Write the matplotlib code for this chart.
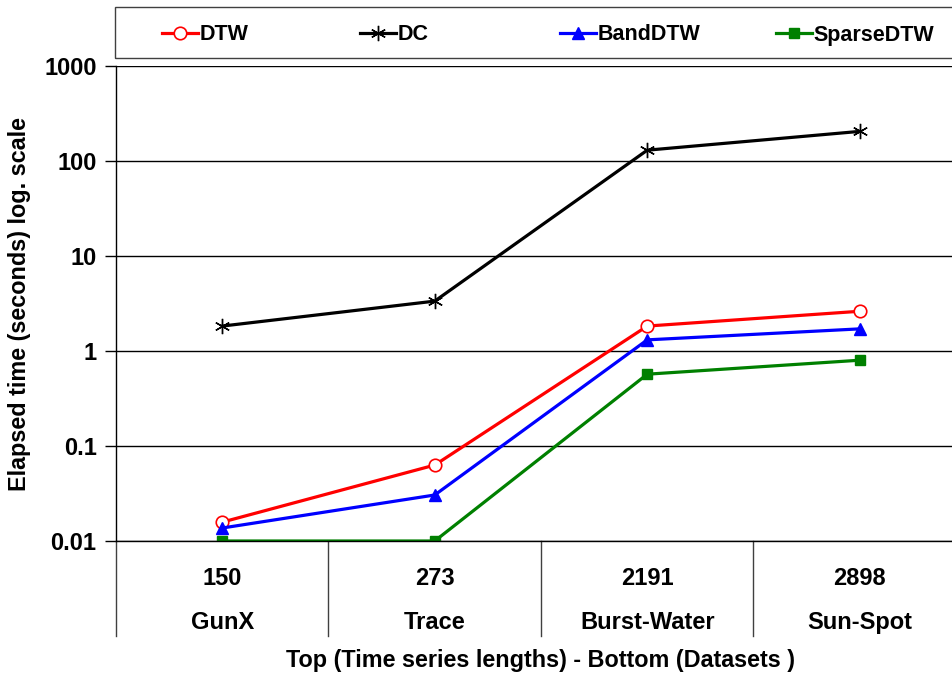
import matplotlib
matplotlib.use("Agg")
import matplotlib.pyplot as plt
import matplotlib.transforms as mtransforms
from matplotlib.patches import Rectangle

# 데이터
lengths = ["150", "273", "2191", "2898"]
datasets = ["GunX", "Trace", "Burst-Water", "Sun-Spot"]
dtw = [0.0158, 0.063, 1.83, 2.62]
dc = [1.83, 3.35, 130, 205]
band_dtw = [0.0137, 0.0305, 1.31, 1.71]
sparse_dtw = [0.01, 0.01, 0.57, 0.80]

plt.rcParams['font.family'] = ['Liberation Sans', 'DejaVu Sans']
plt.rcParams['font.weight'] = 'bold'

fig = plt.figure(figsize=(9.53, 6.77), dpi=100)
W, H = 953, 677
left, right, top, bottom = 116, 966, 66, 541
ax = fig.add_axes([left / W, 1 - bottom / H, (right - left) / W, (bottom - top) / H])

x = list(range(len(lengths)))
l1, = ax.plot(x, dtw, color="red", lw=2.3, marker="o", ms=9, mfc="white", mec="red", mew=1.2, label="DTW")
l2, = ax.plot(x, dc, color="black", lw=2.3, marker=(6, 2, 0), ms=11, mew=1.0, label="DC")
l3, = ax.plot(x, band_dtw, color="blue", lw=2.3, marker="^", ms=9, label="BandDTW")
l4, = ax.plot(x, sparse_dtw, color="green", lw=2.3, marker="s", ms=7, label="SparseDTW")

ax.set_yscale("log")
ax.set_ylim(0.01, 1000)
ax.set_xlim(-0.5, 3.5)
ax.set_yticks([0.01, 0.1, 1, 10, 100, 1000])
ax.set_yticklabels(["0.01", "0.1", "1", "10", "100", "1000"])
ax.minorticks_off()
ax.yaxis.grid(True, color="black", lw=1)
ax.set_axisbelow(True)
ax.tick_params(axis="y", length=8, width=1, labelsize=17, pad=6)
ax.tick_params(axis="x", length=0, labelbottom=False)

for s in ["top", "right"]:
    ax.spines[s].set_visible(False)
ax.spines["left"].set_linewidth(1)
ax.spines["bottom"].set_linewidth(1)

# 카테고리 구분선과 두 줄 라벨
trans = mtransforms.blended_transform_factory(ax.transData, ax.transAxes)
for d in [-0.5, 0.5, 1.5, 2.5, 3.5]:
    ax.plot([d, d], [0, -0.2], color="#404040", lw=1, transform=trans, clip_on=False)
for i in x:
    ax.text(i, -0.078, lengths[i], transform=trans, ha="center", va="center",
            fontsize=17, fontweight="bold")
    ax.text(i, -0.171, datasets[i], transform=trans, ha="center", va="center",
            fontsize=17, fontweight="bold")

fig.text(540 / W, 1 - 661 / H, "Top (Time series lengths) - Bottom (Datasets )",
         ha="center", va="center", fontsize=16.8, fontweight="bold")
fig.text(20 / W, 1 - 304 / H, "Elapsed time (seconds) log. scale", rotation=90,
         ha="center", va="center", fontsize=16.8, fontweight="bold")

# 범례 박스 + 항목별 위치
fig.patches.append(Rectangle((115 / W, 1 - 58 / H), 860 / W, 51 / H, transform=fig.transFigure,
                             fill=False, edgecolor="#404040", lw=1))
leg_x = [162, 360, 560, 776]
for h, lx in zip([l1, l2, l3, l4], leg_x):
    lg = fig.legend(handles=[h], loc="center left", bbox_to_anchor=(lx / W, 1 - 35 / H),
                    frameon=False, prop={"size": 15.5, "weight": "bold"},
                    handlelength=1.65, handletextpad=0.1, borderpad=0, borderaxespad=0)

fig.savefig("out.png", dpi=100)
